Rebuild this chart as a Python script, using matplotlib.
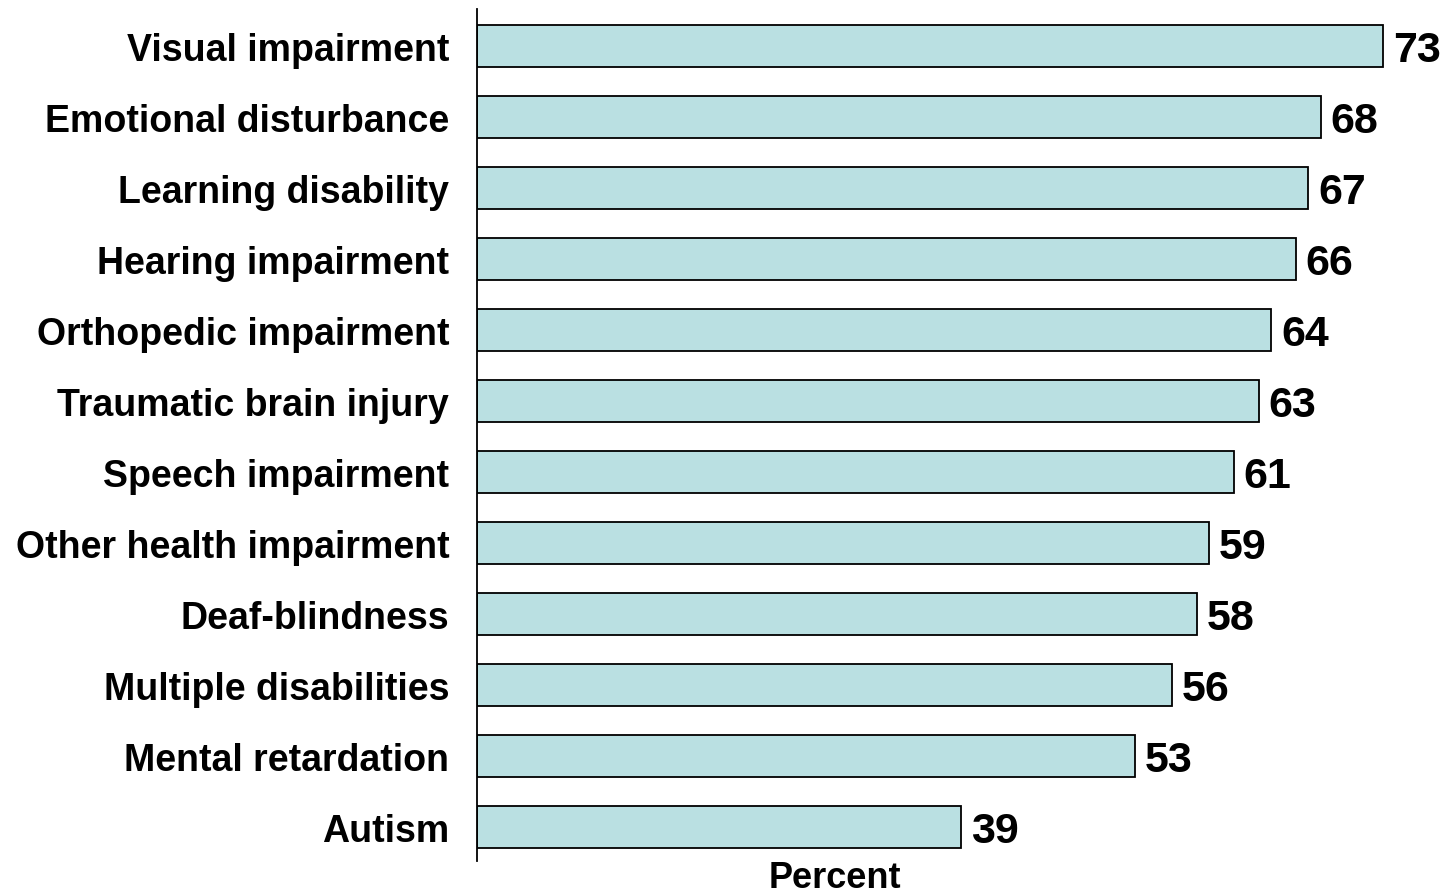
import matplotlib
matplotlib.use("Agg")
import matplotlib.pyplot as plt

categories = ["Visual impairment", "Emotional disturbance", "Learning disability",
              "Hearing impairment", "Orthopedic impairment", "Traumatic brain injury",
              "Speech impairment", "Other health impairment", "Deaf-blindness",
              "Multiple disabilities", "Mental retardation", "Autism"]
values = [73, 68, 67, 66, 64, 63, 61, 59, 58, 56, 53, 39]
xlabel = "Percent"

plt.rcParams['font.family'] = ['Liberation Sans', 'DejaVu Sans']

fig = plt.figure(figsize=(14.43, 8.95), dpi=100)
W, H = 1443, 895
left_px, top_px, bottom_px = 477, 10, 862
px_per_unit = 12.41
right_px = W
ax = fig.add_axes([left_px / W, 1 - bottom_px / H, (right_px - left_px) / W, (bottom_px - top_px) / H])

y = list(range(len(categories)))
ax.barh(y, values, height=0.6, color="#BAE0E2", edgecolor="black", linewidth=1.3)
ax.set_xlim(0, (right_px - left_px) / px_per_unit)
ax.set_ylim(11.48, -0.52)
ax.set_yticks(y)
ax.set_yticklabels(categories, fontsize=27, fontweight="bold")
ax.tick_params(axis="y", length=0, pad=20)
ax.set_xticks([])
for s in ["top", "right", "bottom"]:
    ax.spines[s].set_visible(False)
ax.spines["left"].set_linewidth(1.3)

for yi, v in zip(y, values):
    ax.annotate(str(v), (v, yi), xytext=(7, 0), textcoords="offset points",
                va="center_baseline", ha="left", fontsize=31, fontweight="bold")

fig.text(835 / W, 1 - 879 / H, xlabel, ha="center", va="center", fontsize=26, fontweight="bold")

fig.savefig("out.png", dpi=100)
